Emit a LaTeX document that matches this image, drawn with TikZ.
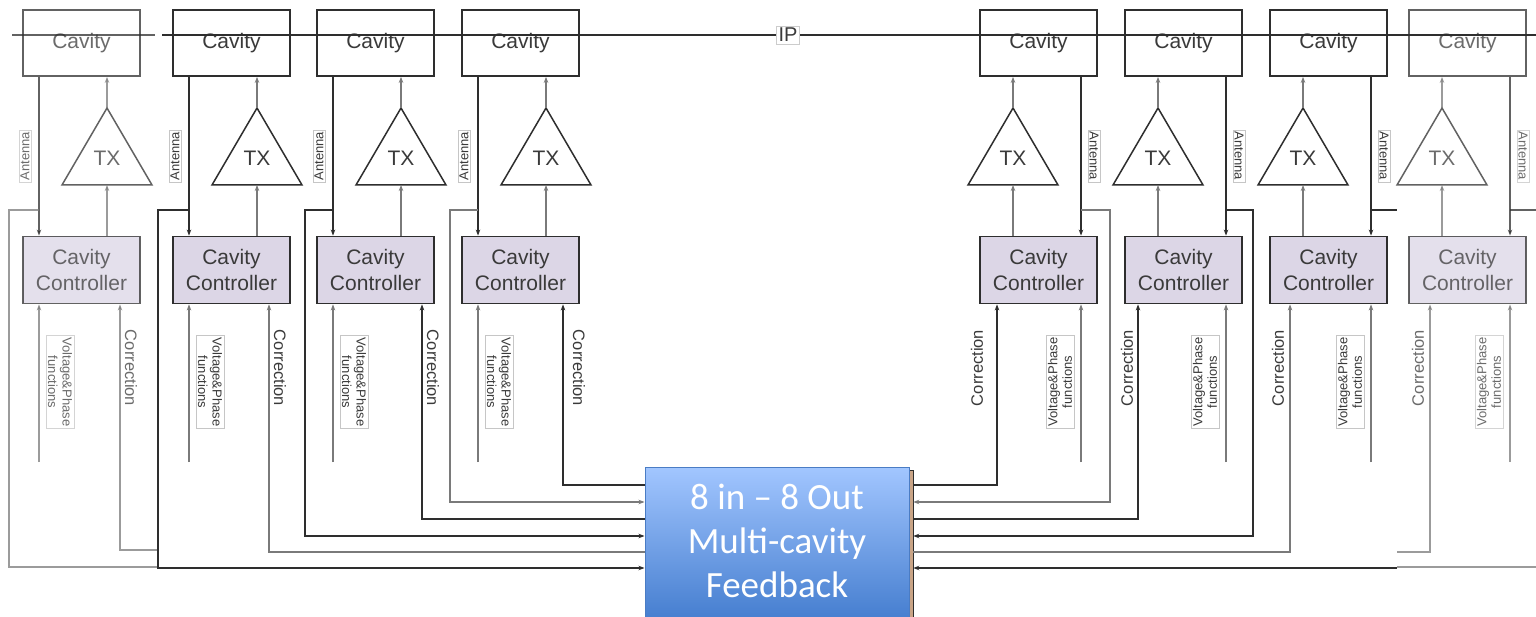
\documentclass[tikz,border=0pt]{standalone}
\usepackage{fontspec}
\setmainfont{Liberation Sans}
\newfontfamily\calibri{Carlito}
\usetikzlibrary{arrows.meta}
\definecolor{dk}{HTML}{2E2E2E}
\definecolor{gr}{HTML}{7A7A7A}
\definecolor{txtc}{HTML}{3A3A3A}
\definecolor{ctlfill}{HTML}{DCD6E6}
\definecolor{fbtop}{HTML}{A2C6FF}
\definecolor{fbbot}{HTML}{3F79CC}
\definecolor{fbedge}{HTML}{4A7CC4}
\definecolor{tanc}{HTML}{C9A486}
\tikzset{
 >={Stealth[length=6pt,width=4.5pt]},
 ln/.style={draw=dk, line width=1.3pt},
 gln/.style={draw=gr, line width=1.8pt},
 cav/.style={draw=dk, line width=1.8pt, minimum width=117pt, minimum height=66pt, inner sep=0pt, text=txtc, font=\fontsize{21}{25}\selectfont},
 ctl/.style={cav, fill=ctlfill, minimum height=67pt, align=center, font=\fontsize{21}{25.5}\selectfont},
 tri/.style={draw=dk, line width=1.5pt},
 txt/.style={text=txtc, font=\fontsize{21}{25}\selectfont, inner sep=0pt},
 antlbl/.style={draw=gray!45, fill=white, inner sep=1.5pt, text=txtc, font=\fontsize{13}{14.5}\selectfont},
 vlbl/.style={antlbl, align=center, inner sep=2pt, font=\fontsize{13}{14.5}\selectfont},
 corr/.style={text=txtc, inner sep=0pt, font=\fontsize{16.5}{18}\selectfont},
 fbbox/.style={draw=fbedge, line width=1pt, top color=fbtop, bottom color=fbbot, minimum width=264pt, minimum height=163pt, inner sep=0pt},
 fbtext/.style={text=white, align=center, font=\calibri\fontsize{37}{44}\selectfont},
 iplbl/.style={draw=gray!40, fill=white, inner sep=2pt, text=txtc, font=\fontsize{20}{22}\selectfont},
}
% #1 id, #2 cavity left x, #3 correction line x, #4 correction label x
\newcommand\leftunit[4]{%
 \node[cav] (cav#1) at ({#2+58.5},43) {Cavity};
 \node[ctl] (cc#1) at ({#2+58.5},270) {Cavity\\Controller};
 \coordinate (txa#1) at ({#2+84},108);
 \coordinate (txb#1) at ({#2+84},185);
 \draw[tri] (txa#1) -- ++(-45,77) -- ++(90,0) -- cycle;
 \node[txt] (tx#1) at ({#2+84},158) {TX};
 \coordinate (a#1) at ({#2+16},210);
 \draw[ln,->] (cav#1.south -| a#1) -- (cc#1.north -| a#1);
 \draw[gln,->] (cc#1.north -| txb#1) -- (txb#1);
 \draw[gln,->] (txa#1) -- (cav#1.south -| txa#1);
 \node[antlbl, rotate=90] (an#1) at ({#2+2},156) {Antenna};
 \coordinate (v#1) at ({#2+16},462);
 \draw[gln,->] (v#1) -- (cc#1.south -| v#1);
 \node[vlbl, rotate=-90] (vl#1) at ({#2+37},382) {Voltage\&Phase\\functions};
 \node[corr, rotate=-90] (cl#1) at (#4,368) {Correction};
}
\newcommand\rightunit[4]{%
 \node[cav] (cav#1) at ({#2+58.5},43) {Cavity};
 \node[ctl] (cc#1) at ({#2+58.5},270) {Cavity\\Controller};
 \coordinate (txa#1) at ({#2+33},108);
 \coordinate (txb#1) at ({#2+33},185);
 \draw[tri] (txa#1) -- ++(-45,77) -- ++(90,0) -- cycle;
 \node[txt] (tx#1) at ({#2+33},158) {TX};
 \coordinate (a#1) at ({#2+101},210);
 \draw[ln,->] (cav#1.south -| a#1) -- (cc#1.north -| a#1);
 \draw[gln,->] (cc#1.north -| txb#1) -- (txb#1);
 \draw[gln,->] (txa#1) -- (cav#1.south -| txa#1);
 \node[antlbl, rotate=-90] (an#1) at ({#2+114},156) {Antenna};
 \coordinate (v#1) at ({#2+101},462);
 \draw[gln,->] (v#1) -- (cc#1.south -| v#1);
 \node[vlbl, rotate=90] (vl#1) at ({#2+80},382) {Voltage\&Phase\\functions};
 \node[corr, rotate=90] (cl#1) at (#4,368) {Correction};
}
\begin{document}
\begin{tikzpicture}[x=1pt,y=-1pt]
\useasboundingbox (0,0) rectangle (1536,617);
\clip (0,0) rectangle (1536,617);
\fill[white] (0,0) rectangle (1536,617);

% faded partial unit on the left
\begin{scope}[opacity=.75]
 \leftunit{1}{23}{120}{131}
 \coordinate (ip1a) at (12,35);
 \coordinate (ip1b) at (155,35);
 \draw[ln] (ip1a) -- (ip1b);
 \coordinate (e1a) at (157,567);
 \coordinate (e1c) at (157,550);
 \draw[gln] (a1) -| (e1a -| 9,0) -- (e1a);
 \draw[gln,->] (e1c) -| (cc1.south -| 120,0);
\end{scope}

\leftunit{2}{173}{269}{280}
\leftunit{3}{317}{422}{433}
\leftunit{4}{462}{563}{579}
\rightunit{5}{980}{997}{977}
\rightunit{6}{1125}{1138}{1127}
\rightunit{7}{1270}{1290}{1278}

% faded partial unit on the right
\begin{scope}[opacity=.75]
 \rightunit{8}{1409}{1430}{1418}
 \coordinate (e8a) at (1536,210);
 \draw[ln] (a8) -- (e8a);
 \coordinate (e8c) at (1397,552);
 \draw[gln,->] (e8c) -| (cc8.south -| 1430,0);
 \coordinate (e8b) at (1397,567);
 \coordinate (e8r) at (1536,567);
 \draw[gln] (e8r) -- (e8b);
\end{scope}

% IP beam line
\coordinate (ipL) at (162,35);
\coordinate (ipR) at (1536,35);
\draw[ln] (ipL) -- (ipR);
\node[iplbl] (ip) at (788,35) {IP};

% feedback box
\node[fill=tanc, draw=dk, line width=.6pt, minimum width=8pt, minimum height=160pt, inner sep=0pt] (fbs) at (909,550) {};
\node[fbbox] (fb) at (777,548.5) {};
\node[fbtext] (fbt) at (777,541) {8 in – 8 Out\\Multi-cavity\\Feedback};

% left side connections
\draw[ln,->] (fb.west |- 0,485) -| (cc4.south -| 563,0);
\draw[gln,->] (a4) -| (450,502) -- (fb.west |- 0,502);
\draw[ln,->] (fb.west |- 0,519) -| (cc3.south -| 422,0);
\draw[ln,->] (a3) -| (305,536) -- (fb.west |- 0,536);
\draw[gln,->] (fb.west |- 0,552) -| (cc2.south -| 269,0);
\draw[ln,->] (a2) -| (158,568) -- (fb.west |- 0,568);

% right side connections
\draw[ln,->] (fbs.east |- 0,485) -| (cc5.south -| 997,0);
\draw[gln,->] (a5) -| (1110,502) -- (fbs.east |- 0,502);
\draw[ln,->] (fbs.east |- 0,519) -| (cc6.south -| 1138,0);
\draw[ln,->] (a6) -| (1253,536) -- (fbs.east |- 0,536);
\draw[gln,->] (fbs.east |- 0,552) -| (cc7.south -| 1290,0);
\coordinate (e7) at (1397,210);
\draw[ln] (a7) -- (e7);
\coordinate (e7b) at (1397,568);
\draw[ln,->] (e7b) -- (fbs.east |- 0,568);
\end{tikzpicture}
\end{document}
